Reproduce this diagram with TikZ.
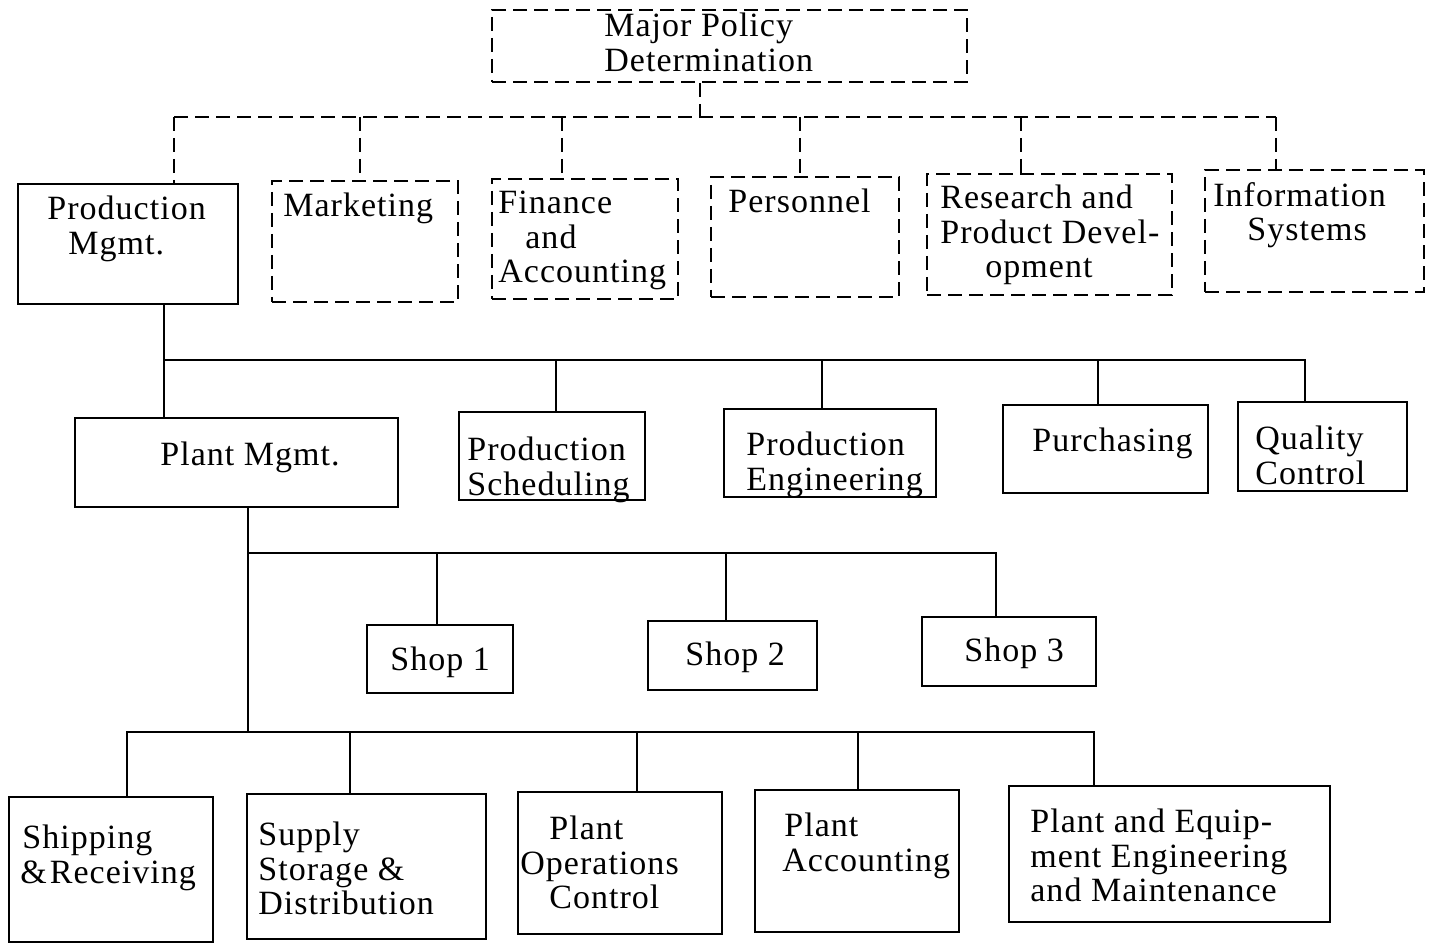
\documentclass[tikz,border=0pt]{standalone}
\usepackage{fontspec}
\setmainfont{Liberation Serif}[LetterSpace=3]
\usetikzlibrary{fit}
\begin{document}
\begin{tikzpicture}[x=0.5pt,y=-0.5pt,
  box/.style={draw, line width=1pt, inner sep=0pt},
  dbox/.style={box, dash pattern=on 7pt off 3.5pt},
  txt/.style={anchor=north west, inner sep=0pt, align=left, font=\fontsize{17pt}{17.25pt}\selectfont},
  link/.style={line width=1pt},
  dlink/.style={link, dash pattern=on 7pt off 3.5pt}]
\useasboundingbox (0,0) rectangle (1435,946);

% ---- top ----
\node[dbox, fit={(492,10)(967,82)}] (mpd) {};
\node[txt] (mpd-t) at (604,13) {Major Policy\\Determination};

% ---- first level ----
\node[box, fit={(18,184)(238,304)}] (pm) {};
\node[txt] (pm-t) at (47,196) {Production\\\hspace*{10.5pt}Mgmt.};
\node[dbox, fit={(272,181)(458,302)}] (mk) {};
\node[txt] (mk-t) at (283,193) {Marketing};
\node[dbox, fit={(492,179)(678,299)}] (fa) {};
\node[txt] (fa-t) at (498,191) {Finance\\\hspace*{13.5pt}and\\Accounting};
\node[dbox, fit={(711,177)(899,297)}] (pe) {};
\node[txt] (pe-t) at (728,189) {Personnel};
\node[dbox, fit={(927,174)(1172,295)}] (rd) {};
\node[txt] (rd-t) at (940,185) {Research and\\Product Devel-\\\hspace*{22.5pt}opment};
\node[dbox, fit={(1205,170)(1424,292)}] (is) {};
\node[txt] (is-t) at (1213,182) {Information\\\hspace*{17pt}Systems};

% ---- second level ----
\node[box, fit={(75,418)(398,507)}] (plm) {};
\node[txt] (plm-t) at (160,442) {Plant Mgmt.};
\node[box, fit={(459,412)(645,500)}] (ps) {};
\node[txt] (ps-t) at (467,437) {Production\\Scheduling};
\node[box, fit={(724,409)(936,497)}] (pen) {};
\node[txt] (pen-t) at (746,432) {Production\\Engineering};
\node[box, fit={(1003,405)(1208,493)}] (pu) {};
\node[txt] (pu-t) at (1032,428) {Purchasing};
\node[box, fit={(1238,402)(1407,491)}] (qc) {};
\node[txt] (qc-t) at (1255,426) {Quality\\Control};

% ---- shops ----
\node[box, fit={(367,625)(513,693)}] (s1) {};
\node[txt] (s1-t) at (390,647) {Shop 1};
\node[box, fit={(648,621)(817,690)}] (s2) {};
\node[txt] (s2-t) at (685,642) {Shop 2};
\node[box, fit={(922,617)(1096,686)}] (s3) {};
\node[txt] (s3-t) at (964,638) {Shop 3};

% ---- bottom ----
\node[box, fit={(9,797)(213,942)}] (sr) {};
\node[txt] (sr-t) at (20,825) {\hspace*{1pt}Shipping\\\&\hspace*{1.5pt}Receiving};
\node[box, fit={(247,794)(486,939)}] (ssd) {};
\node[txt] (ssd-t) at (258,822) {Supply\\Storage \&\\Distribution};
\node[box, fit={(518,792)(722,934)}] (poc) {};
\node[txt] (poc-t) at (520,816) {\hspace*{14.5pt}Plant\\Operations\\\hspace*{14.5pt}Control};
\node[box, fit={(755,790)(959,932)}] (pa) {};
\node[txt] (pa-t) at (782,813) {\hspace*{1pt}Plant\\Accounting};
\node[box, fit={(1009,786)(1330,922)}] (pem) {};
\node[txt] (pem-t) at (1030,809) {Plant and Equip-\\ment Engineering\\and Maintenance};

% ---- tap points ----
\coordinate (mpd-out) at ([xshift=-14.75pt]mpd.south);
\coordinate (pm-in)  at ([xshift=23pt]pm.north);
\coordinate (mk-in)  at ([xshift=-2.5pt]mk.north);
\coordinate (fa-in)  at ([xshift=-11.5pt]fa.north);
\coordinate (pe-in)  at ([xshift=-2.5pt]pe.north);
\coordinate (rd-in)  at ([xshift=-14.25pt]rd.north);
\coordinate (is-in)  at ([xshift=-19.25pt]is.north);

\coordinate (pm-out) at ([xshift=18pt]pm.south);
\coordinate (plm-in) at ([xshift=-36.25pt]plm.north);
\coordinate (ps-in)  at ([xshift=2pt]ps.north);
\coordinate (pen-in) at ([xshift=-4pt]pen.north);
\coordinate (pu-in)  at ([xshift=-3.75pt]pu.north);
\coordinate (qc-in)  at ([xshift=-8.75pt]qc.north);

\coordinate (plm-out) at ([xshift=5.75pt]plm.south);
\coordinate (s1-in) at ([xshift=-1.5pt]s1.north);
\coordinate (s2-in) at ([xshift=-3.25pt]s2.north);
\coordinate (s3-in) at ([xshift=-6.5pt]s3.north);

\coordinate (sr-in)  at ([xshift=8pt]sr.north);
\coordinate (ssd-in) at ([xshift=-8.25pt]ssd.north);
\coordinate (poc-in) at ([xshift=8.5pt]poc.north);
\coordinate (pa-in)  at ([xshift=0.5pt]pa.north);
\coordinate (pem-in) at ([xshift=-37.75pt]pem.north);

\coordinate (b1) at (700,117);
\coordinate (b2) at (164,360);
\coordinate (b3) at (248,553);
\coordinate (b4) at (248,732);

% ---- dashed connectors ----
\draw[dlink] (mpd-out) -- (mpd-out |- b1);
\draw[dlink] (pm-in |- b1) -- (is-in |- b1);
\foreach \n in {pm,mk,fa,pe,rd,is}
  \draw[dlink] (\n-in |- b1) -- (\n-in);

% ---- solid connectors ----
\draw[link] (pm-out) -- (plm-in);
\draw[link] (pm-out |- b2) -| (qc-in);
\foreach \n in {ps,pen,pu}
  \draw[link] (\n-in |- b2) -- (\n-in);

\draw[link] (plm-out) -- (plm-out |- b4);
\draw[link] (plm-out |- b3) -| (s3-in);
\foreach \n in {s1,s2}
  \draw[link] (\n-in |- b3) -- (\n-in);

\draw[link] (sr-in) |- (pem-in |- b4) -- (pem-in);
\foreach \n in {ssd,poc,pa}
  \draw[link] (\n-in |- b4) -- (\n-in);
\end{tikzpicture}
\end{document}
